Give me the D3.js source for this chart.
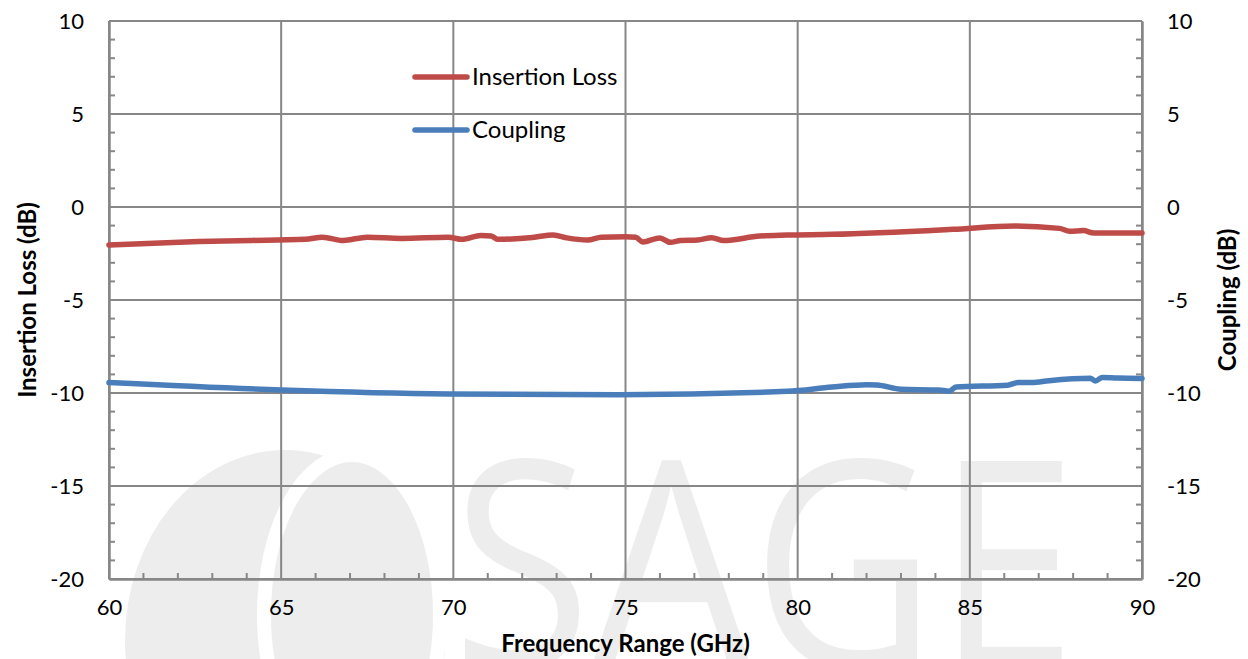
<!DOCTYPE html>
<html>
<head>
<meta charset="utf-8">
<script src="https://cdn.jsdelivr.net/npm/d3@7"></script>
<style>
  body { margin: 0; background: #fff; }
  text { font-family: Lato, "Open Sans", sans-serif; fill: #000; }
</style>
</head>
<body>
<div id="chart"></div>
<script>
// frequency (GHz) and measured values (dB)
let ilFreq = [60, 62.6, 64.9, 65.7, 66.2, 66.8, 67.5, 68.5, 69.85, 70.25, 70.8, 71.1, 71.3, 72.3, 72.9, 73.3, 73.9, 74.3, 75.0, 75.3, 75.5, 76.0, 76.3, 76.6, 77.1, 77.5, 77.85, 78.9, 79.7, 81.0, 84.5, 86.3, 87.6, 87.9, 88.3, 88.6, 89.2, 90];
let ilValues = [-2.04, -1.86, -1.77, -1.74, -1.62, -1.8, -1.62, -1.69, -1.62, -1.74, -1.53, -1.56, -1.74, -1.64, -1.5, -1.66, -1.77, -1.62, -1.6, -1.63, -1.88, -1.66, -1.9, -1.8, -1.77, -1.65, -1.8, -1.56, -1.51, -1.47, -1.2, -1.02, -1.15, -1.3, -1.27, -1.4, -1.4, -1.4];

let cpFreq = [60, 65, 69.85, 74.8, 79.7, 81.0, 82.0, 82.3, 83.0, 84.1, 84.4, 84.6, 86.1, 86.4, 86.8, 87.3, 88.5, 88.65, 88.85, 89.3, 90];
let cpValues = [-9.44, -9.84, -10.05, -10.09, -9.91, -9.68, -9.56, -9.57, -9.8, -9.84, -9.9, -9.68, -9.58, -9.44, -9.44, -9.34, -9.21, -9.35, -9.16, -9.2, -9.22];

let xTicks = [60, 65, 70, 75, 80, 85, 90];
let yTicks = [10, 5, 0, -5, -10, -15, -20];

let W = 1248, H = 659;
let margin = { top: 21, right: 106, bottom: 80, left: 109 },
    width = W - margin.left - margin.right,
    height = H - margin.top - margin.bottom;

let svg = d3.select("#chart")
    .append("svg")
    .attr("width", W)
    .attr("height", H);

// faint watermark behind everything
let wm = svg.append("g").attr("fill", "#ededed");
wm.append("ellipse").attr("cx", 285).attr("cy", 640).attr("rx", 160).attr("ry", 190);
wm.append("ellipse").attr("cx", 352).attr("cy", 615).attr("rx", 88).attr("ry", 160)
    .attr("stroke", "#fff").attr("stroke-width", 14);
wm.append("text")
    .attr("x", 452).attr("y", 668)
    .attr("textLength", 625)
    .attr("lengthAdjust", "spacingAndGlyphs")
    .style("font-family", "'Open Sans', sans-serif")
    .style("font-weight", 400)
    .style("font-size", "290px")
    .style("fill", "#ededed")
    .text("SAGE");

let g = svg.append("g")
    .attr("transform", "translate(" + margin.left + "," + margin.top + ")");

let x = d3.scaleLinear().domain([60, 90]).range([0, width]);
let y = d3.scaleLinear().domain([-20, 10]).range([height, 0]);

let gridColor = "#878787";

// gridlines
g.selectAll(".vgrid")
    .data(xTicks)
    .enter()
    .append("line")
    .attr("x1", function (d) { return x(d); })
    .attr("x2", function (d) { return x(d); })
    .attr("y1", 0)
    .attr("y2", height)
    .attr("stroke", gridColor)
    .attr("stroke-width", 2);

g.selectAll(".hgrid")
    .data(yTicks)
    .enter()
    .append("line")
    .attr("x1", 0)
    .attr("x2", width)
    .attr("y1", function (d) { return y(d); })
    .attr("y2", function (d) { return y(d); })
    .attr("stroke", gridColor)
    .attr("stroke-width", 2);

// minor ticks
let xMinor = d3.range(61, 90).filter(function (d) { return d % 5 !== 0; });
let yMinor = d3.range(-19, 10).filter(function (d) { return d % 5 !== 0; });

g.selectAll(".xminor")
    .data(xMinor)
    .enter()
    .append("line")
    .attr("x1", function (d) { return x(d); })
    .attr("x2", function (d) { return x(d); })
    .attr("y1", height)
    .attr("y2", height - 6)
    .attr("stroke", gridColor)
    .attr("stroke-width", 2);

g.selectAll(".yminorL")
    .data(yMinor)
    .enter()
    .append("line")
    .attr("x1", 0)
    .attr("x2", 6)
    .attr("y1", function (d) { return y(d); })
    .attr("y2", function (d) { return y(d); })
    .attr("stroke", gridColor)
    .attr("stroke-width", 2);

g.selectAll(".yminorR")
    .data(yMinor)
    .enter()
    .append("line")
    .attr("x1", width)
    .attr("x2", width - 6)
    .attr("y1", function (d) { return y(d); })
    .attr("y2", function (d) { return y(d); })
    .attr("stroke", gridColor)
    .attr("stroke-width", 2);

// axes
let fontSize = "22px";

let xAxis = g.append("g")
    .attr("transform", "translate(0," + height + ")")
    .call(d3.axisBottom(x).tickValues(xTicks).tickSize(0).tickPadding(20));
let yAxisL = g.append("g")
    .call(d3.axisLeft(y).tickValues(yTicks).tickSize(0).tickPadding(25));
let yAxisR = g.append("g")
    .attr("transform", "translate(" + width + ",0)")
    .call(d3.axisRight(y).tickValues(yTicks).tickSize(0).tickPadding(25));

[xAxis, yAxisL, yAxisR].forEach(function (a) {
    a.select(".domain").attr("stroke", gridColor).attr("stroke-width", 2.5);
    a.selectAll("text")
        .style("font-size", fontSize)
        .style("font-family", "Lato, 'Open Sans', sans-serif")
        .attr("fill", "#000");
});
// keep a plain hyphen for negatives like the original
yAxisL.selectAll("text").text(function (d) { return String(d); });
yAxisR.selectAll("text").text(function (d) { return String(d); });

// series
let line = d3.line()
    .x(function (d) { return x(d[0]); })
    .y(function (d) { return y(d[1]); })
    .curve(d3.curveMonotoneX);

let ilData = ilFreq.map(function (f, i) { return [f, ilValues[i]]; });
let cpData = cpFreq.map(function (f, i) { return [f, cpValues[i]]; });

g.append("path")
    .datum(cpData)
    .attr("d", line)
    .attr("fill", "none")
    .attr("stroke", "#4a7ebb")
    .attr("stroke-width", 5.5)
    .attr("stroke-linecap", "round");

g.append("path")
    .datum(ilData)
    .attr("d", line)
    .attr("fill", "none")
    .attr("stroke", "#be4b48")
    .attr("stroke-width", 5.5)
    .attr("stroke-linecap", "round");

// legend
let legend = [
    { name: "Insertion Loss", color: "#be4b48", y: 77 },
    { name: "Coupling", color: "#4a7ebb", y: 130 }
];
let lg = svg.append("g");
legend.forEach(function (d) {
    lg.append("line")
        .attr("x1", 415).attr("x2", 467)
        .attr("y1", d.y).attr("y2", d.y)
        .attr("stroke", d.color)
        .attr("stroke-width", 5.5)
        .attr("stroke-linecap", "round");
    lg.append("text")
        .attr("x", 472).attr("y", d.y)
        .attr("dy", "0.35em")
        .style("font-size", "24px")
        .text(d.name);
});

// axis titles
svg.append("text")
    .attr("x", margin.left + width / 2)
    .attr("y", 652)
    .attr("text-anchor", "middle")
    .style("font-size", "24px")
    .style("font-weight", "bold")
    .text("Frequency Range (GHz)");

svg.append("text")
    .attr("transform", "translate(36," + (margin.top + height / 2) + ")rotate(-90)")
    .attr("text-anchor", "middle")
    .style("font-size", "24px")
    .style("font-weight", "bold")
    .text("Insertion Loss (dB)");

svg.append("text")
    .attr("transform", "translate(1236," + (margin.top + height / 2) + ")rotate(-90)")
    .attr("text-anchor", "middle")
    .style("font-size", "24px")
    .style("font-weight", "bold")
    .text("Coupling (dB)");
</script>
</body>
</html>
